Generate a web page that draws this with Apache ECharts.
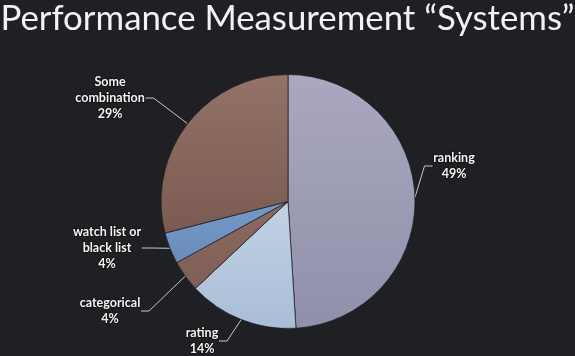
<!DOCTYPE html>
<html><head><meta charset="utf-8">
<script src="https://cdn.jsdelivr.net/npm/echarts@6/dist/echarts.min.js"></script>
<style>html,body{margin:0;padding:0;background:#1f2024;}#c{width:575px;height:356px;}</style>
</head><body><div id="c"></div>
<script>
const titleText = 'Performance Measurement \u201CSystems\u201D';
const categories = ['ranking', 'rating', 'categorical', 'watch list or\nblack list', 'Some\ncombination'];
const values = [49, 14, 4, 4, 29];
const colorsTop = ['#a9a8c0', '#c3d3e6', '#8c6a60', '#7499c8', '#937268'];
const colorsBottom = ['#9190aa', '#a8bdd6', '#7f5e55', '#6a8cbb', '#7b5a51'];
const labelPos = [[454, 166], [202, 341], [110, 311], [107, 248], [110, 98]];

const chart = echarts.init(document.getElementById('c'));
chart.setOption({
  backgroundColor: '#1f2024',
  title: {
    text: titleText, left: 'center', top: -4,
    textStyle: {color: '#f2f2f2', fontFamily: 'Lato', fontWeight: 'normal', fontSize: 34.8}
  },
  series: [{
    type: 'pie',
    center: [288, 201.5],
    radius: 127,
    startAngle: 90,
    clockwise: true,
    avoidLabelOverlap: false,
    itemStyle: {borderColor: '#1a1b1f', borderWidth: 0.4},
    label: {
      formatter: '{b}\n{d}%',
      color: '#f4f4f4', fontFamily: 'Lato', fontSize: 12.5, fontWeight: 'bold',
      lineHeight: 16, textBorderColor: '#111', textBorderWidth: 1.5, align: 'center'
    },
    labelLine: {show: true, lineStyle: {color: '#c8c8c8', width: 1}, length: 15, length2: 8},
    labelLayout: function (p) {
      const pos = labelPos[p.dataIndex];
      return {x: pos[0], y: pos[1], align: 'center', verticalAlign: 'middle'};
    },
    emphasis: {disabled: true},
    data: categories.map((c, i) => ({
      name: c, value: values[i],
      itemStyle: {color: new echarts.graphic.LinearGradient(0, 0, 0, 1, [
        {offset: 0, color: colorsTop[i]}, {offset: 1, color: colorsBottom[i]}])}
    }))
  }]
});
</script></body></html>
